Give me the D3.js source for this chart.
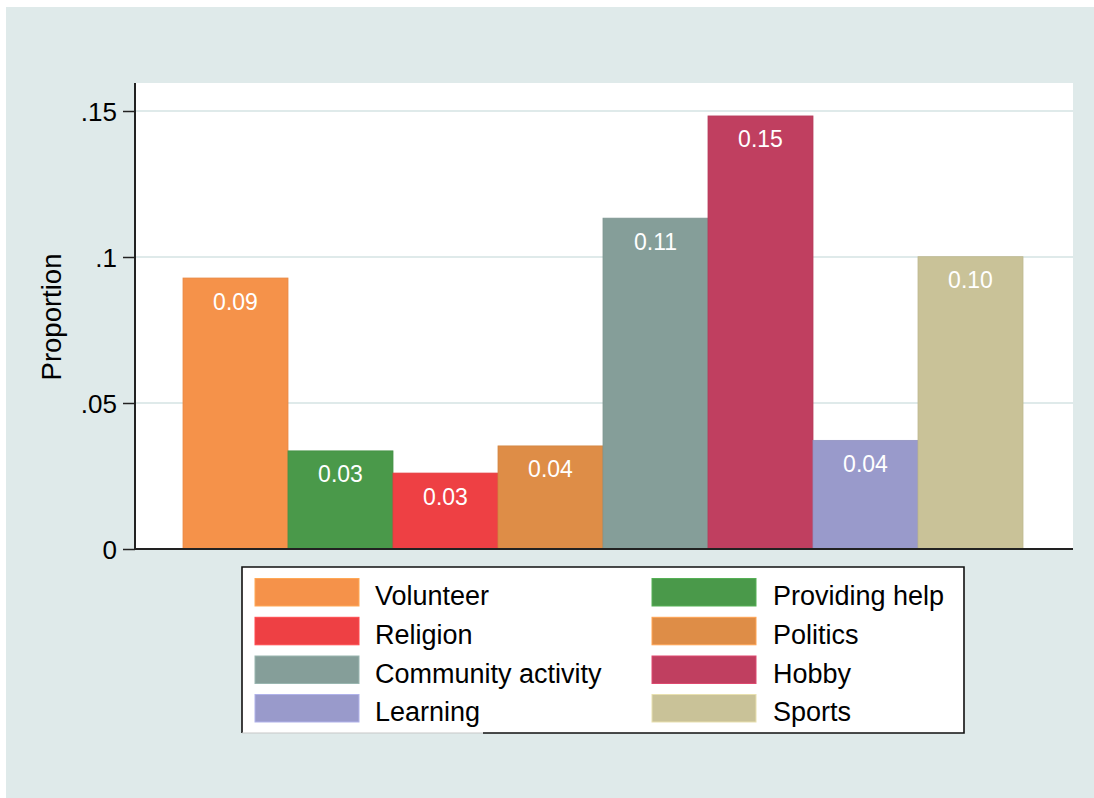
<!DOCTYPE html>
<html>
<head>
<meta charset="utf-8">
<script src="https://cdn.jsdelivr.net/npm/d3@7"></script>
<style>
  html, body { margin: 0; padding: 0; background: #ffffff; }
  svg { display: block; font-family: Arial, "Liberation Sans", sans-serif; }
</style>
</head>
<body>
<svg id="chart" width="1094" height="798"></svg>
<script>
// ---- Data ----
const categories = ["Volunteer", "Providing help", "Religion", "Politics",
                    "Community activity", "Hobby", "Learning", "Sports"];
const values = [0.0928, 0.0336, 0.0260, 0.0353, 0.1133, 0.1483, 0.0372, 0.1001];
const valueLabels = ["0.09", "0.03", "0.03", "0.04", "0.11", "0.15", "0.04", "0.10"];
const colors = ["#f5924a", "#4a994a", "#ee4044", "#de8d47",
                "#859e99", "#c03f60", "#999acb", "#c9c298"];
const yTicks = [0, 0.05, 0.1, 0.15];
const yTickLabels = ["0", ".05", ".1", ".15"];
const yTitle = "Proportion";
// legend order (two columns, row-major)
const legendOrder = [0, 1, 2, 3, 4, 5, 6, 7];

// ---- Layout ----
const svg = d3.select("#chart");
const W = 1094, H = 798;
const plot = { left: 135, right: 1073, top: 83, bottom: 549 };

svg.append("rect").attr("x", 6).attr("y", 7).attr("width", W - 6).attr("height", H - 7)
  .attr("fill", "#dfeaea");

svg.append("rect").attr("x", plot.left).attr("y", plot.top)
  .attr("width", plot.right - plot.left).attr("height", plot.bottom - plot.top)
  .attr("fill", "#ffffff");

const y = d3.scaleLinear().domain([0, 0.15]).range([plot.bottom, 111]);
const x = d3.scaleBand().domain(categories)
  .range([plot.left + 48, plot.right - 50]).paddingInner(0).paddingOuter(0);

// gridlines
svg.append("g").selectAll("line").data(yTicks.filter(d => d > 0)).join("line")
  .attr("x1", plot.left).attr("x2", plot.right)
  .attr("y1", d => y(d)).attr("y2", d => y(d))
  .attr("stroke", "#dfeaea").attr("stroke-width", 2);

// bars
svg.append("g").selectAll("rect").data(values).join("rect")
  .attr("x", (d, i) => x(categories[i]))
  .attr("y", d => y(d))
  .attr("width", x.bandwidth())
  .attr("height", d => plot.bottom - y(d))
  .attr("fill", (d, i) => colors[i])
  .attr("stroke", (d, i) => d3.color(colors[i]).darker(0.15))
  .attr("stroke-width", 0.8);

// value labels
svg.append("g").selectAll("text").data(values).join("text")
  .attr("x", (d, i) => x(categories[i]) + x.bandwidth() / 2)
  .attr("y", d => y(d) + 31.5)
  .attr("text-anchor", "middle")
  .attr("fill", "#ffffff")
  .attr("font-size", 23)
  .text((d, i) => valueLabels[i]);

// y axis
const yAxis = d3.axisLeft(y).tickValues(yTicks)
  .tickFormat((d, i) => yTickLabels[i]).tickSize(12).tickPadding(6);
const gy = svg.append("g").attr("transform", `translate(${plot.left},0)`).call(yAxis);
gy.select(".domain").attr("d", `M0,${plot.top}V${plot.bottom}`)
  .attr("stroke", "#222").attr("stroke-width", 2);
gy.selectAll(".tick line").attr("stroke", "#222").attr("stroke-width", 1.5);
gy.selectAll(".tick text").attr("font-size", 26).attr("fill", "#000")
  .attr("font-family", "Arial, 'Liberation Sans', sans-serif").attr("dy", "0.36em");

// x axis line
svg.append("line").attr("x1", plot.left - 1).attr("x2", plot.right)
  .attr("y1", plot.bottom).attr("y2", plot.bottom)
  .attr("stroke", "#222").attr("stroke-width", 2);

// y title
svg.append("text")
  .attr("transform", `translate(61,317) rotate(-90)`)
  .attr("text-anchor", "middle")
  .attr("font-size", 27.5).attr("fill", "#000")
  .text(yTitle);

// ---- Legend ----
const lg = { x: 242, y: 567, w: 722, h: 166 };
svg.append("rect").attr("x", lg.x).attr("y", lg.y).attr("width", lg.w).attr("height", lg.h)
  .attr("fill", "#ffffff");
// border: top, left, right, and bottom (left part lighter as in reference)
svg.append("path")
  .attr("d", `M${lg.x + 241},${lg.y + lg.h}H${lg.x + lg.w}V${lg.y}H${lg.x}V${lg.y + lg.h}`)
  .attr("fill", "none").attr("stroke", "#111").attr("stroke-width", 1.6);
svg.append("line").attr("x1", lg.x).attr("x2", lg.x + 241)
  .attr("y1", lg.y + lg.h).attr("y2", lg.y + lg.h)
  .attr("stroke", "#c8c8c8").attr("stroke-width", 1.2);

const colX = [255, 652];
const textX = [375, 773];
const rowY = [578.5, 617.3, 656, 694.5];
const items = svg.append("g").selectAll("g").data(legendOrder).join("g")
  .attr("transform", (d, k) => `translate(0,${rowY[Math.floor(k / 2)]})`);
items.append("rect")
  .attr("x", (d, k) => colX[k % 2]).attr("y", 0)
  .attr("width", 104).attr("height", 27.5)
  .attr("fill", d => colors[d])
  .attr("stroke", d => d3.color(colors[d]).brighter(0.4))
  .attr("stroke-width", 1);
items.append("text")
  .attr("x", (d, k) => textX[k % 2]).attr("y", 26.5)
  .attr("font-size", 27).attr("fill", "#000")
  .text(d => categories[d]);
</script>
</body>
</html>
